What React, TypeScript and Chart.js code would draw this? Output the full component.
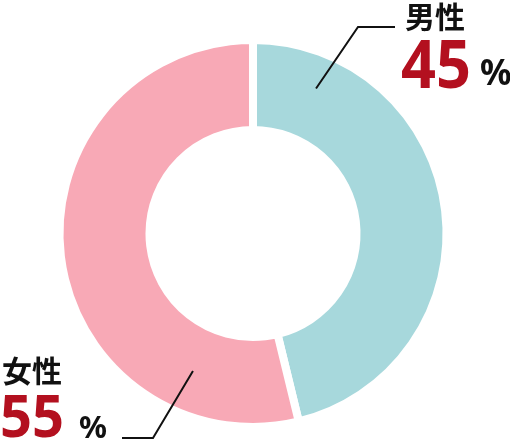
import React, { useEffect, useRef } from "react";
import { Chart, registerables } from "chart.js";

Chart.register(...registerables);

const categories = ["男性", "女性"];
const sliceValues = [46.2, 53.8];
const percentLabels = ["45", "55"];
const sliceColors = ["#a7d8dc", "#f8a9b6"];
const numberColor = "#b3101f";

export default function App() {
  const ref = useRef<HTMLCanvasElement>(null);

  useEffect(() => {
    const canvas = ref.current!;
    const calloutPlugin = {
      id: "callouts",
      afterDraw(chart: any) {
        const ctx = chart.ctx as CanvasRenderingContext2D;
        const arc = chart.getDatasetMeta(0).data[0];
        const { x: cx, y: cy, outerRadius } = arc.getProps(["x", "y", "outerRadius"], true);
        const pt = (deg: number, frac: number) => {
          const a = (deg * Math.PI) / 180;
          return { x: cx + Math.sin(a) * outerRadius * frac, y: cy - Math.cos(a) * outerRadius * frac };
        };
        ctx.save();
        ctx.strokeStyle = "#111";
        ctx.lineWidth = 2;
        // male leader
        const m = pt(23.5, 0.817);
        ctx.beginPath();
        ctx.moveTo(m.x, m.y);
        ctx.lineTo(358, 27);
        ctx.lineTo(395, 27);
        ctx.stroke();
        // female leader
        const f = pt(203.6, 0.775);
        ctx.beginPath();
        ctx.moveTo(f.x, f.y);
        ctx.lineTo(153, 438);
        ctx.lineTo(122, 438);
        ctx.stroke();

        ctx.textAlign = "left";
        // category names
        ctx.fillStyle = "#111";
        ctx.font = "bold 30px 'Noto Sans CJK JP'";
        ctx.textBaseline = "middle";
        ctx.fillText(categories[0], 405, 17);
        ctx.fillText(categories[1], 2, 371);

        // numbers
        ctx.textBaseline = "alphabetic";
        ctx.fillStyle = numberColor;
        ctx.font = "bold 66px 'Noto Sans'";
        ctx.fillText(percentLabels[0], 401, 87.5, 70);
        ctx.font = "bold 60px 'Noto Sans'";
        ctx.fillText(percentLabels[1], 0, 437, 64);

        ctx.fillStyle = "#111";
        ctx.font = "bold 35px 'Noto Sans'";
        ctx.fillText("%", 480, 85);
        ctx.font = "bold 31px 'Noto Sans'";
        ctx.fillText("%", 79, 438);
        ctx.restore();
      },
    };

    const chart = new Chart(canvas, {
      type: "doughnut",
      data: {
        labels: categories,
        datasets: [
          {
            data: sliceValues,
            backgroundColor: sliceColors,
            borderColor: "#ffffff",
            borderWidth: 8,
          },
        ],
      },
      options: {
        responsive: false,
        animation: false,
        cutout: "53.5%",
        layout: { padding: { left: 55, right: 59, top: 36, bottom: 11 } },
        plugins: {
          legend: { display: false },
          tooltip: { enabled: false },
        },
      },
      plugins: [calloutPlugin],
    });
    return () => chart.destroy();
  }, []);

  return (
    <div style={{ position: "absolute", left: 0, top: 0, width: 510, height: 442, background: "#fff" }}>
      <canvas ref={ref} width={510} height={442} style={{ display: "block", width: 510, height: 442 }} />
    </div>
  );
}
